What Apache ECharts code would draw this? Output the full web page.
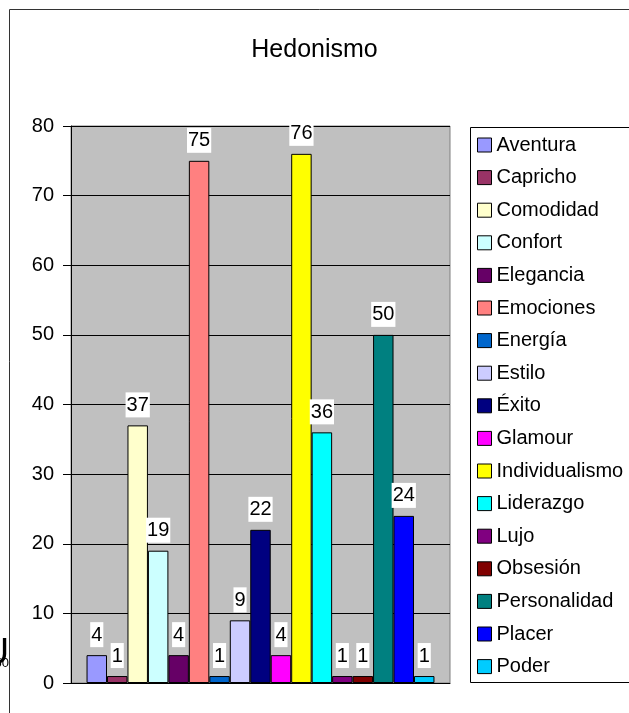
<!DOCTYPE html>
<html>
<head>
<meta charset="utf-8">
<script src="https://cdn.jsdelivr.net/npm/echarts@6/dist/echarts.min.js"></script>
<style>
  html, body { margin: 0; padding: 0; background: #fff; }
  #main { width: 629px; height: 713px; }
</style>
</head>
<body>
<div id="main"></div>
<script>
var names = ['Aventura', 'Capricho', 'Comodidad', 'Confort', 'Elegancia', 'Emociones', 'Energía', 'Estilo',
    'Éxito', 'Glamour', 'Individualismo', 'Liderazgo', 'Lujo', 'Obsesión', 'Personalidad', 'Placer', 'Poder'];
var values = [4, 1, 37, 19, 4, 75, 1, 9, 22, 4, 76, 36, 1, 1, 50, 24, 1];
var colors = ['#9999FF', '#993366', '#FFFFCC', '#CCFFFF', '#660066', '#FF8080', '#0066CC', '#CCCCFF',
    '#000080', '#FF00FF', '#FFFF00', '#00FFFF', '#800080', '#800000', '#008080', '#0000FF', '#00CCFF'];
var yTicks = [0, 10, 20, 30, 40, 50, 60, 70, 80];

var myChart = echarts.init(document.getElementById('main'));
var font = 'Liberation Sans, Arial, sans-serif';

var series = names.map(function (n, i) {
    return {
        name: n,
        type: 'bar',
        barGap: '0%',
        barCategoryGap: '8.2%',
        data: [values[i]],
        itemStyle: { color: colors[i], borderColor: '#000', borderWidth: 1 },
        label: {
            show: true,
            position: 'top',
            distance: 8,
            color: '#000',
            fontFamily: font,
            fontSize: 20,
            backgroundColor: '#fff',
            padding: [3, 1, 2, 1]
        }
    };
});

var option = {
    animation: false,
    title: {
        text: 'Hedonismo',
        left: 'center',
        top: 33,
        textStyle: { fontFamily: font, fontSize: 25, fontWeight: 'normal', color: '#000' }
    },
    grid: {
        left: 71, top: 126, width: 379, height: 557,
        show: true, backgroundColor: '#C0C0C0', borderColor: '#808080', borderWidth: 1
    },
    legend: {
        orient: 'vertical',
        left: 477,
        top: 135,
        padding: 0,
        itemWidth: 14,
        itemHeight: 14,
        itemGap: 12.6,
        icon: 'rect',
        data: names,
        itemStyle: { borderColor: '#000', borderWidth: 1 },
        textStyle: { fontFamily: font, fontSize: 20, color: '#000', lineHeight: 20 }
    },
    xAxis: {
        type: 'category',
        data: [''],
        axisLine: { show: true, lineStyle: { color: '#000' } },
        axisTick: { show: false },
        axisLabel: { show: false }
    },
    yAxis: {
        type: 'value',
        min: yTicks[0],
        max: yTicks[yTicks.length - 1],
        interval: 10,
        axisLine: { show: true, lineStyle: { color: '#000' } },
        axisTick: { show: true, length: 8, lineStyle: { color: '#000' } },
        axisLabel: { fontFamily: font, fontSize: 20, color: '#000', margin: 17 },
        splitLine: { show: true, lineStyle: { color: '#000', width: 1 } }
    },
    graphic: [
        {
            type: 'rect',
            shape: { x: 9.5, y: 9.5, width: 700, height: 800 },
            style: { fill: null, stroke: '#333', lineWidth: 1 },
            z: -10
        },
        {
            type: 'rect',
            shape: { x: 470.5, y: 127.5, width: 200, height: 555 },
            style: { fill: '#fff', stroke: '#000', lineWidth: 1 },
            z: -5
        },
        {
            type: 'text',
            x: 9, y: 654,
            style: { text: 'U', fontFamily: font, fontSize: 36, fill: '#000', align: 'right', verticalAlign: 'middle' },
            z: -20
        },
        {
            type: 'text',
            x: 9, y: 663,
            style: { text: '50', fontFamily: font, fontSize: 13, fill: '#000', align: 'right', verticalAlign: 'middle' },
            z: -20
        }
    ],
    series: series
};

myChart.setOption(option);
</script>
</body>
</html>
